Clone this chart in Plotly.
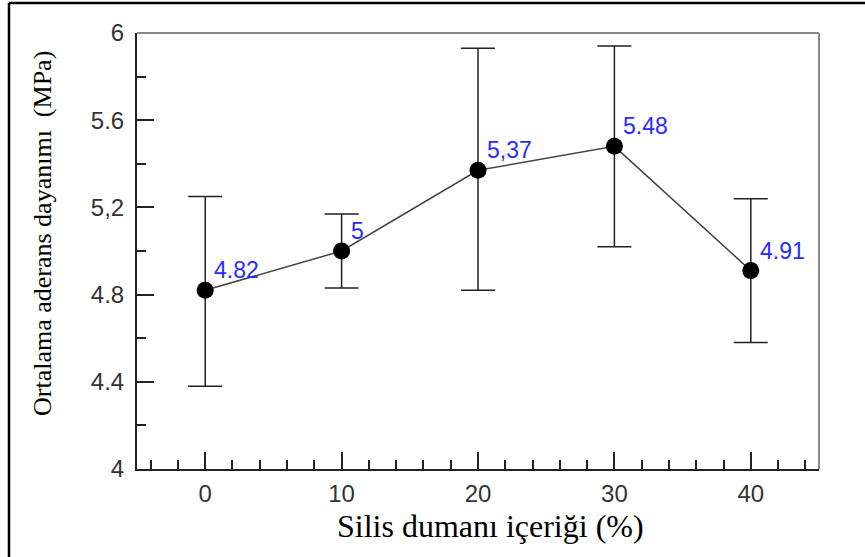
import plotly.graph_objects as go

silica = [0, 10, 20, 30, 40]
mean_strength = [4.82, 5.00, 5.37, 5.48, 4.91]
upper_val = [5.25, 5.17, 5.93, 5.94, 5.24]
lower_val = [4.38, 4.83, 4.82, 5.02, 4.58]
point_labels = ["4.82", "5", "5,37", "5.48", "4.91"]

y_tickvals = [4, 4.4, 4.8, 5.2, 5.6, 6]
y_ticktext = ["4", "4.4", "4.8", "5,2", "5.6", "6"]
x_tickvals = [0, 10, 20, 30, 40]
x_ticktext = ["0", "10", "20", "30", "40"]

err_plus = [u - m for u, m in zip(upper_val, mean_strength)]
err_minus = [m - l for m, l in zip(mean_strength, lower_val)]

fig = go.Figure()
fig.add_trace(go.Scatter(
    x=silica, y=mean_strength, mode="lines+markers",
    line=dict(color="#444444", width=1.5),
    marker=dict(color="black", size=17),
    error_y=dict(type="data", symmetric=False, array=err_plus, arrayminus=err_minus,
                 color="#222222", thickness=1.5, width=17),
    showlegend=False,
))

annotations = []
for xv, yv, t in zip(silica, mean_strength, point_labels):
    annotations.append(dict(x=xv, y=yv, xref="x", yref="y", text=t, showarrow=False,
                            xanchor="left", yanchor="middle", xshift=7, yshift=20,
                            font=dict(family="Liberation Sans", size=23, color="#2a2aff")))

annotations.append(dict(x=0.5176, y=-0.1313, xref="paper", yref="paper",
                        text="Silis dumanı içeriği (%)", showarrow=False,
                        xanchor="center", yanchor="middle",
                        font=dict(family="Liberation Serif", size=32, color="black")))
annotations.append(dict(x=-0.1378, y=0.539, xref="paper", yref="paper",
                        text="Ortalama aderans dayanımı  (MPa)", showarrow=False,
                        textangle=-90, xanchor="center", yanchor="middle",
                        font=dict(family="Liberation Serif", size=26, color="black")))

shapes = [
    dict(type="line", xref="paper", yref="paper", x0=0, x1=1, y0=1, y1=1,
         line=dict(color="#888888", width=2)),
    dict(type="line", xref="paper", yref="paper", x0=1, x1=1, y0=0, y1=1,
         line=dict(color="#888888", width=2)),
    dict(type="line", xref="paper", yref="paper", x0=-0.1877, x1=1.2, y0=1.0688, y1=1.0688,
         line=dict(color="black", width=2.5)),
    dict(type="line", xref="paper", yref="paper", x0=-0.1877, x1=-0.1877, y0=-0.3, y1=1.0688,
         line=dict(color="black", width=2.5)),
]

fig.update_layout(
    width=865, height=557,
    margin=dict(l=137, r=46, t=33, b=88),
    paper_bgcolor="white", plot_bgcolor="white",
    annotations=annotations, shapes=shapes,
    xaxis=dict(range=[-5, 45], tickmode="array", tickvals=x_tickvals, ticktext=x_ticktext,
               ticks="inside", ticklen=17, tickwidth=1.5, tickcolor="#222222",
               showline=True, linecolor="#222222", linewidth=2, mirror=False,
               showgrid=False, zeroline=False,
               tickfont=dict(family="Liberation Sans", size=24, color="#333333"),
               ticklabelstandoff=2,
               minor=dict(tickmode="linear", tick0=0, dtick=2, ticks="inside", ticklen=9,
                          tickwidth=1.5, tickcolor="#222222", showgrid=False)),
    yaxis=dict(range=[4, 6], tickmode="array", tickvals=y_tickvals, ticktext=y_ticktext,
               ticks="inside", ticklen=17, tickwidth=1.5, tickcolor="#222222",
               showline=True, linecolor="#222222", linewidth=2, mirror=False,
               showgrid=False, zeroline=False,
               tickfont=dict(family="Liberation Sans", size=24, color="#333333"),
               ticklabelstandoff=6,
               minor=dict(tickmode="linear", tick0=4, dtick=0.2, ticks="inside", ticklen=9,
                          tickwidth=1.5, tickcolor="#222222", showgrid=False)),
)

fig.write_html("out.html")
